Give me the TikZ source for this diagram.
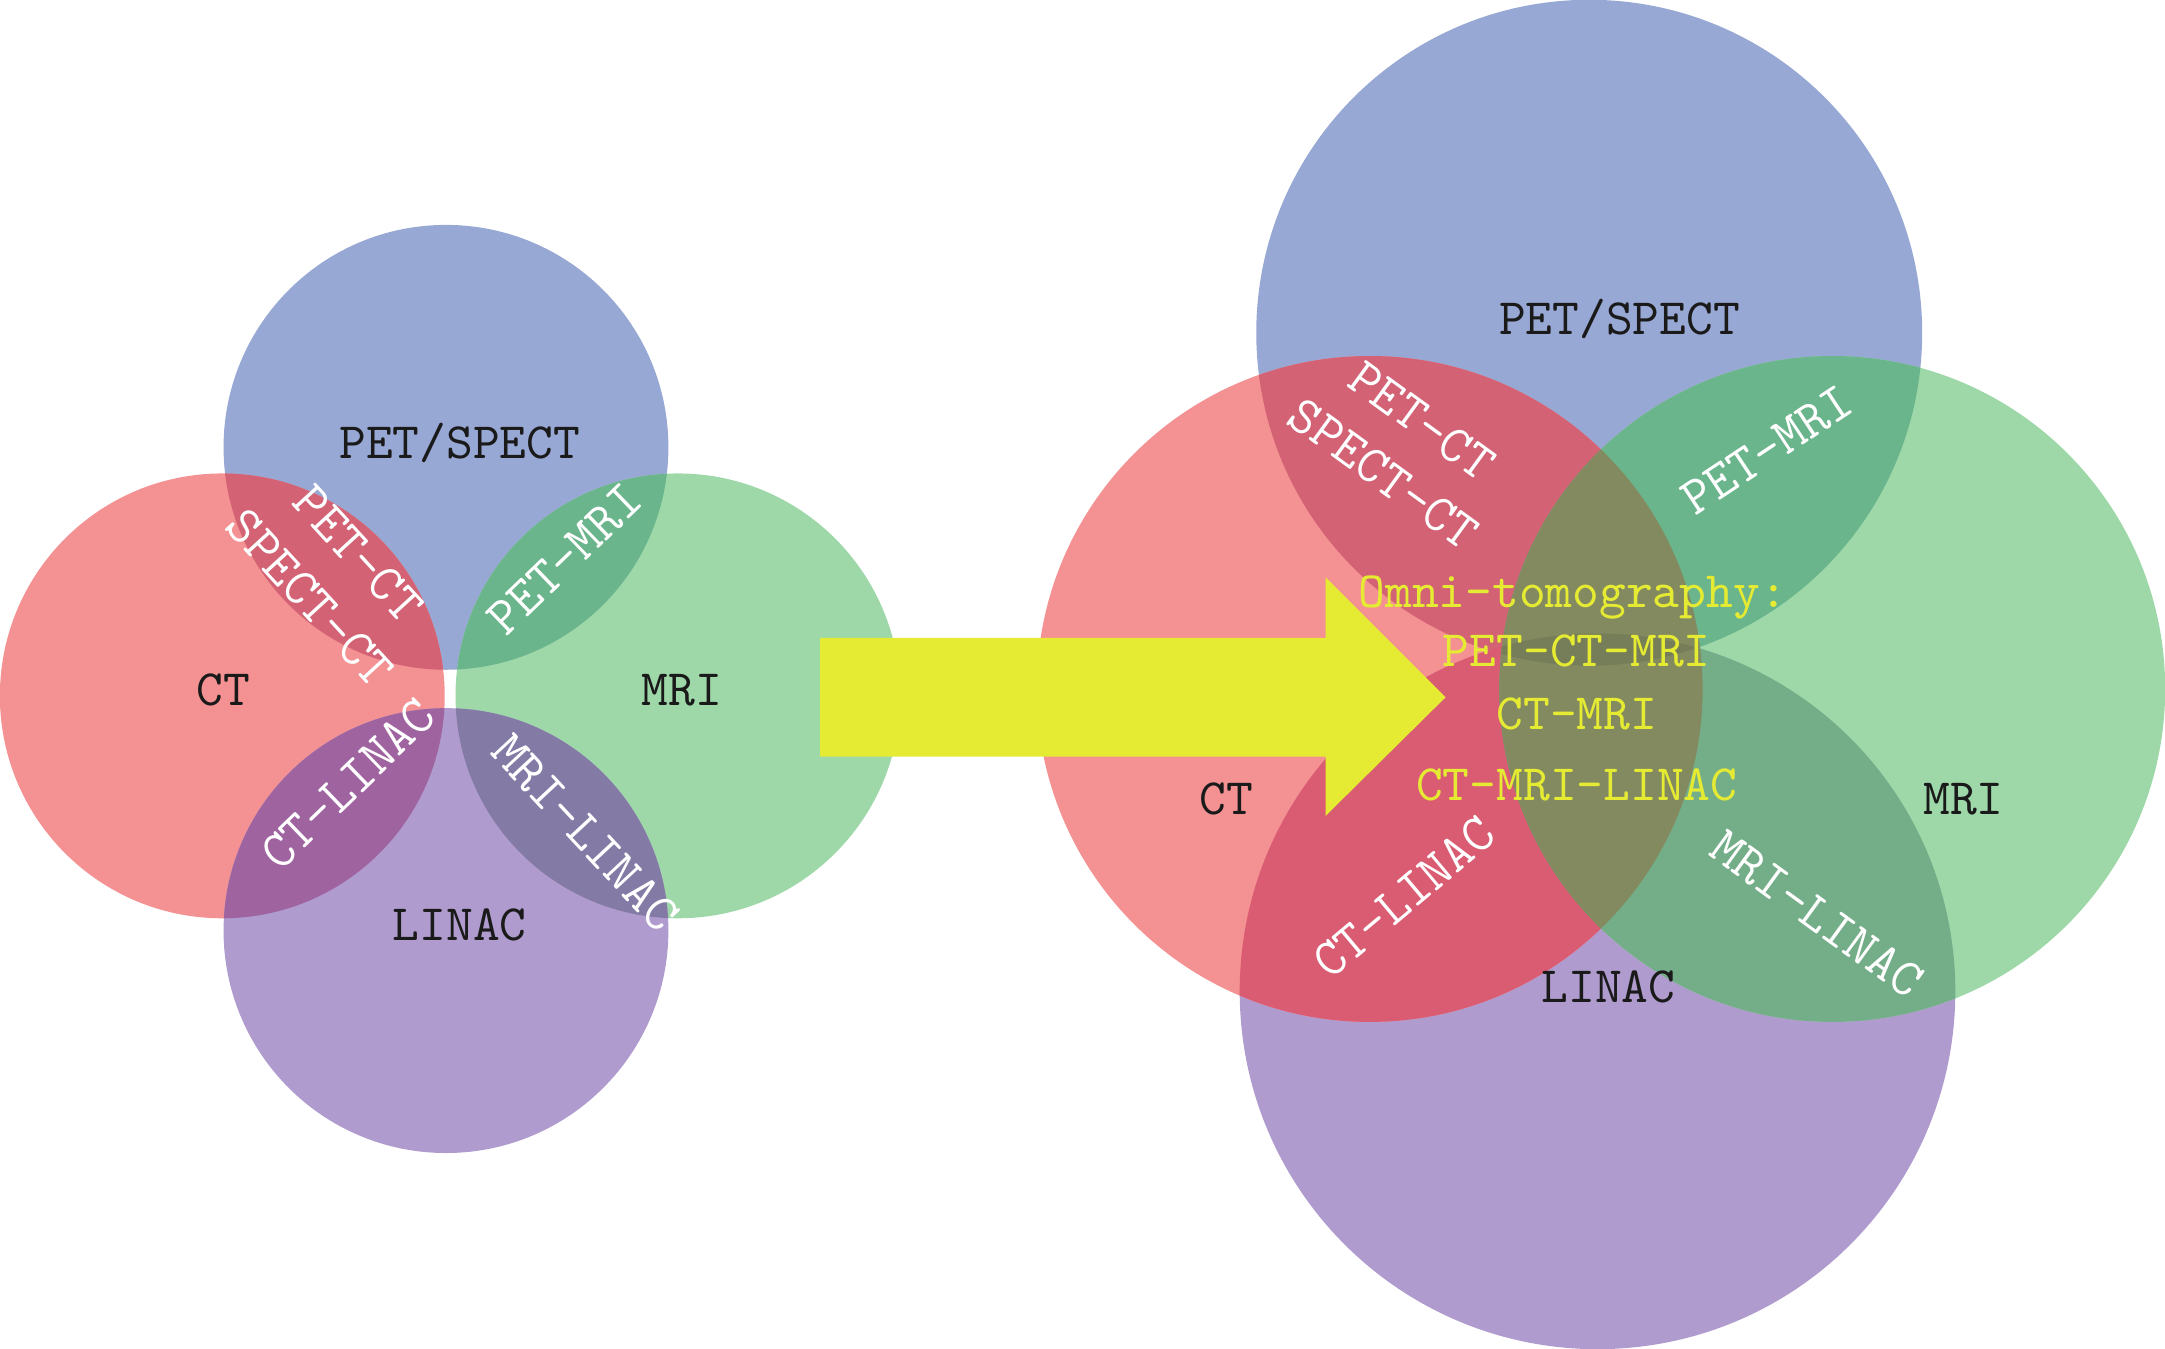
\documentclass[tikz,border=0pt]{standalone}
\usepackage{fontspec}
\definecolor{petblue}{RGB}{152,168,212}
\definecolor{ctred}{RGB}{244,145,146}
\definecolor{mrigreen}{RGB}{158,216,169}
\definecolor{linacpurple}{RGB}{176,155,206}
\definecolor{petct}{RGB}{210,98,116}
\definecolor{petmri}{RGB}{107,181,140}
\definecolor{ctlinacL}{RGB}{159,100,160}
\definecolor{mrilinacL}{RGB}{131,123,165}
\definecolor{ctlinacR}{RGB}{218,92,114}
\definecolor{mrilinacR}{RGB}{116,174,137}
\definecolor{ctmri}{RGB}{131,138,95}
\definecolor{ctmriband}{RGB}{118,125,89}
\definecolor{omniyellow}{RGB}{229,235,50}
\definecolor{labelblack}{RGB}{26,26,26}
% overlap of two discs: clip disc #1 (radius #2), fill disc #3 (radius #4) with colour #5
\newcommand\lens[5]{\begin{scope}\clip (#1) circle[radius=#2];
    \fill[#5] (#3) circle[radius=#4];\end{scope}}

\begin{document}
\begin{tikzpicture}[x=0.01cm, y=-0.01cm,
    disc/.style={circle, inner sep=0pt, outer sep=0pt},
    modality/.style={anchor=base, text=labelblack, font=\ttfamily\fontsize{10.5}{12}\selectfont},
    pairlabel/.style={text=white, align=center, inner sep=0pt, font=\ttfamily\fontsize{11}{13.5}\selectfont},
    omni/.style={anchor=base, text=omniyellow, font=\ttfamily\fontsize{10.5}{12}\selectfont}]

    \useasboundingbox (0,0) rectangle (1568,977);

    % Separate systems
    \node (petL) [disc, fill=petblue, minimum size=3.22cm] at (323,324) {};
    \node (ctL) [disc, fill=ctred, minimum size=3.22cm] at (161,504) {};
    \node (mriL) [disc, fill=mrigreen, minimum size=3.22cm] at (491,504) {};
    \node (linacL) [disc, fill=linacpurple, minimum size=3.22cm] at (323,674) {};

    \lens{petL}{1.61cm}{ctL}{1.61cm}{petct}
    \lens{petL}{1.61cm}{mriL}{1.61cm}{petmri}
    \lens{ctL}{1.61cm}{linacL}{1.61cm}{ctlinacL}
    \lens{mriL}{1.61cm}{linacL}{1.61cm}{mrilinacL}

    % Omni-tomography
    \node (petR) [disc, fill=petblue, minimum size=4.82cm] at (1151,241) {};
    \node (linacR) [disc, fill=linacpurple, minimum size=5.18cm] at (1157,718) {};
    \node (ctR) [disc, fill=ctred, minimum size=4.82cm] at (992,499) {};
    \node (mriR) [disc, fill=mrigreen, minimum size=4.82cm] at (1327,499) {};

    \lens{petR}{2.41cm}{ctR}{2.41cm}{petct}
    \lens{petR}{2.41cm}{mriR}{2.41cm}{petmri}
    \lens{linacR}{2.59cm}{ctR}{2.41cm}{ctlinacR}
    \lens{linacR}{2.59cm}{mriR}{2.41cm}{mrilinacR}
    \lens{ctR}{2.41cm}{mriR}{2.41cm}{ctmri}
    \begin{scope}
        \clip (ctR) circle[radius=2.41cm];
        \clip (mriR) circle[radius=2.41cm];
        \clip (petR) circle[radius=2.41cm];
        \fill[ctmriband] (linacR) circle[radius=2.59cm];
    \end{scope}

    % Big arrow
    \coordinate (tail) at (594,505);
    \fill[omniyellow] (tail) ++(0,-43) -- ++(366,0) -- ++(0,-44) -- ++(87,87)
        -- ++(-87,86) -- ++(0,-43) -- ++(-366,0) -- cycle;

    % Labels, left
    \node (petLtxt) [modality] at (333,332) {PET/SPECT};
    \node (ctLtxt) [modality] at (162,511) {CT};
    \node (mriLtxt) [modality] at (494,511) {MRI};
    \node (linacLtxt) [modality] at (333,681) {LINAC};

    \node (petctL) [pairlabel, rotate=-47.5] at (242,417) {PET-CT\\SPECT-CT};
    \node (petmriL) [pairlabel, rotate=44] at (409,405) {PET-MRI};
    \node (ctlinacLtxt) [pairlabel, rotate=44] at (252,568) {CT-LINAC};
    \node (mrilinacLtxt) [pairlabel, rotate=-47] at (424,603) {MRI-LINAC};

    % Labels, right
    \node (petRtxt) [modality] at (1173,242) {PET/SPECT};
    \node (ctRtxt) [modality] at (888,590) {CT};
    \node (mriRtxt) [modality] at (1422,590) {MRI};
    \node (linacRtxt) [modality] at (1165,726) {LINAC};

    \node (petctR) [pairlabel, rotate=-36] at (1016,324) {PET-CT\\SPECT-CT};
    \node (petmriR) [pairlabel, rotate=33.5] at (1280,326) {PET-MRI};
    \node (ctlinacRtxt) [pairlabel, rotate=40] at (1017,650) {CT-LINAC};
    \node (mrilinacRtxt) [pairlabel, rotate=-36] at (1316,662) {MRI-LINAC};

    \node (omni1) [omni] at (1139,440) {Omni-tomography:};
    \node (omni2) [omni] at (1142,483) {PET-CT-MRI};
    \node (omni3) [omni] at (1142,528) {CT-MRI};
    \node (omni4) [omni] at (1142,580) {CT-MRI-LINAC};

\end{tikzpicture}
\end{document}
